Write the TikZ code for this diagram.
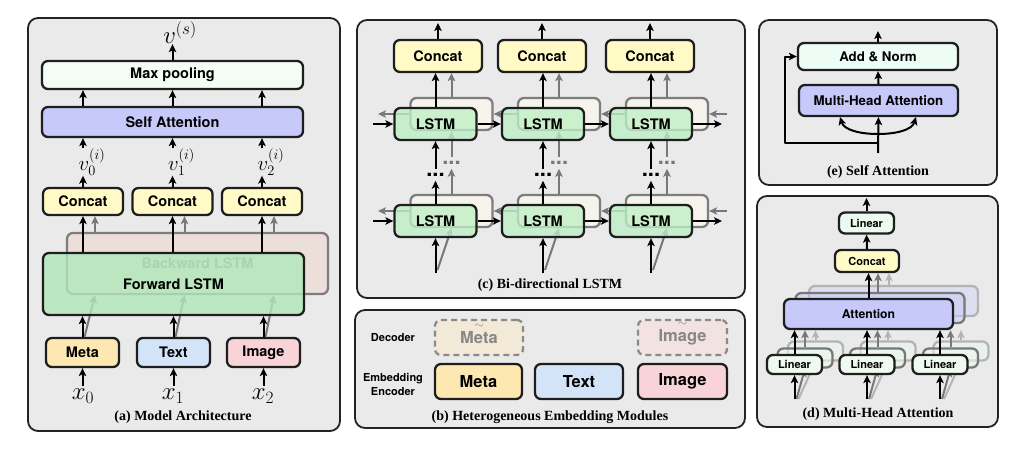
\documentclass[tikz,border=0pt]{standalone}
\usepackage{amsmath}
\usepackage{fontspec}
\newfontfamily\hsans{TeX Gyre Heros}
\newfontfamily\tms{Liberation Serif}
\usetikzlibrary{arrows.meta}
\definecolor{pbg}{RGB}{234,234,234}
\definecolor{pbd}{RGB}{35,35,35}
\definecolor{bbd}{RGB}{30,30,30}
\definecolor{cMax}{RGB}{244,252,246}
\definecolor{cAtt}{RGB}{198,201,250}
\definecolor{cCon}{RGB}{255,250,198}
\definecolor{cBack}{RGB}{236,222,217}
\definecolor{cFwd}{RGB}{176,232,186}
\definecolor{cMeta}{RGB}{253,232,178}
\definecolor{cText}{RGB}{212,228,248}
\definecolor{cImg}{RGB}{248,212,216}
\definecolor{cLst}{RGB}{190,240,196}
\definecolor{cBk}{RGB}{246,243,236}
\definecolor{cAdd}{RGB}{238,252,246}
\definecolor{cLin}{RGB}{236,250,240}
\definecolor{cDM}{RGB}{242,234,214}
\definecolor{cDI}{RGB}{242,226,226}
\definecolor{gArr}{RGB}{120,120,120}
\definecolor{lgArr}{RGB}{180,180,180}
\definecolor{gBord}{RGB}{125,125,125}
\definecolor{gTxt}{RGB}{135,135,135}
\begin{document}
\begin{tikzpicture}[x=1pt,y=-1pt,
  panel/.style={draw=pbd, line width=1.8pt, fill=pbg, rounded corners=10pt, inner sep=0pt},
  bx/.style={draw=bbd, line width=2.3pt, rounded corners=6pt, inner sep=0pt},
  bk/.style={draw=gBord, line width=2.3pt, rounded corners=6pt, inner sep=0pt, fill=cBk},
  arr/.style={-{Stealth[length=8pt,width=7.5pt,inset=2pt]}, line width=2pt, draw=black, line join=round},
  garr/.style={arr, draw=gArr},
  lgarr/.style={arr, draw=lgArr},
  f11/.style={font=\hsans\bfseries\fontsize{11}{14}\selectfont},
  f12/.style={font=\hsans\bfseries\fontsize{12.2}{14}\selectfont},
  f13/.style={font=\hsans\bfseries\fontsize{13.3}{15}\selectfont},
  f14/.style={font=\hsans\bfseries\fontsize{14.5}{16}\selectfont},
  f16/.style={font=\hsans\bfseries\fontsize{16.5}{18}\selectfont},
  mth/.style={font=\fontsize{24}{26}\selectfont, inner sep=0pt},
  mthv/.style={font=\fontsize{22}{24}\selectfont, inner sep=0pt},
  captxt/.style={font=\tms\bfseries\fontsize{14}{16}\selectfont, inner sep=0pt},
  dotn/.style={font=\hsans\bfseries\fontsize{22}{22}\selectfont, inner sep=0pt}]
\useasboundingbox (0,0) rectangle (1028,448);

% ================= Panel (a) =================
\node[panel, minimum width=312, minimum height=413] (pA) at (184,224.5) {};
\node[bx, fill=cMax, minimum width=261, minimum height=28, f14] (maxpool) at (172.5,75) {Max pooling};
\node[bx, fill=cAtt, minimum width=261, minimum height=30, f14] (selfatt) at (172.5,122) {Self Attention};
\node[mth] (vs) at (180,33) {$v^{(s)}$};
\draw[arr] (maxpool.north) -- (maxpool.north |- vs.south);

\node[bx, fill=cCon, minimum width=80, minimum height=27, f14] (c0) at (83,201.5) {Concat};
\node[bx, fill=cCon, minimum width=80, minimum height=27, f14] (c1) at (172.5,201.5) {Concat};
\node[bx, fill=cCon, minimum width=80, minimum height=27, f14] (c2) at (262,201.5) {Concat};

\foreach \c in {c0,c1,c2} \draw[arr] (selfatt.north -| \c) -- (maxpool.south -| \c);

\node[mthv] (v0) at (92,162) {$v_0^{(i)}$};
\node[mthv] (v1) at (181.5,162) {$v_1^{(i)}$};
\node[mthv] (v2) at (271,162) {$v_2^{(i)}$};
\foreach \c/\v in {c0/v0,c1/v1,c2/v2}{
  \draw[arr] (\c.north) -- (\c.north |- \v.south);
  \draw[arr] (\c.north |- \v.north) -- (\c.north |- selfatt.south);
}

\coordinate (ag0) at (95,0);
\coordinate (ag1) at (184.5,0);
\coordinate (ag2) at (274,0);

\node[bx, draw=gBord, fill=cBack, minimum width=261, minimum height=61, f14, text=gTxt] (bw) at (197.5,263.5) {Backward LSTM};
\foreach \c/\g in {c0/ag0,c1/ag1,c2/ag2} \draw[garr] (\g |- bw.north) -- (\g |- \c.south);

\node[bx, fill=cMeta, minimum width=73, minimum height=29, f14] (meta) at (82.5,352.5) {Meta};
\node[bx, fill=cText, minimum width=73, minimum height=29, f14] (text) at (173.5,352.5) {Text};
\node[bx, fill=cImg, minimum width=73, minimum height=29, f14] (image) at (263.5,352.5) {Image};

\foreach \m/\g in {meta/ag0,text/ag1,image/ag2} \draw[garr] ([xshift=2pt]\m.north) -- (\g |- bw.south);

\node[bx, fill=cFwd, fill opacity=0.8, text opacity=1, minimum width=261, minimum height=62, f14] (fw) at (173.5,284) {Forward LSTM};
\foreach \c in {c0,c1,c2} \draw[arr] (fw.north -| \c) -- (\c.south);
\foreach \m in {meta,text,image} \draw[arr] (\m.north) -- (fw.south -| \m.north);

\node[mth] (x0) at (83,396) {$x_0$};
\node[mth] (x1) at (173,396) {$x_1$};
\node[mth] (x2) at (263,396) {$x_2$};
\foreach \m/\x in {meta/x0,text/x1,image/x2} \draw[arr, shorten <=3pt] (\m.south |- \x.north) -- (\m.south);

\node[captxt] (capA) at (183,417) {(a) Model Architecture};

% ================= Panel (c) =================
\node[panel, minimum width=388, minimum height=278] (pC) at (551,159) {};
\foreach \i/\cx/\cc in {1/435.5/438,2/543/542,3/651/650}{
  \node[bk, minimum width=82, minimum height=32] (Bu\i) at ({\cx+16},114) {};
  \node[bk, minimum width=82, minimum height=32] (Bl\i) at ({\cx+16},211) {};
  \node[bx, fill=cCon, minimum width=88, minimum height=32, f14] (CC\i) at (\cc,56) {Concat};
  \node[dotn, text=gArr] (gd\i) at ({\cx+16},163) {...};
  \node[dotn] (kd\i) at (\cx,175) {...};
  \coordinate (in\i) at (\cx,273);
  \coordinate (gin\i) at ({\cx+2},270);
  \coordinate (out\i) at (\cc,23);
}
\foreach \i in {1,2,3}{
  \draw[garr] (Bu\i.north) -- (Bu\i.north |- CC\i.south);
  \draw[garr, shorten >=4pt] (Bl\i.north) -- (Bl\i.north |- gd\i.south);
  \draw[garr, shorten <=4pt] (gd\i.north) -- (Bu\i.south);
  \draw[garr] (gin\i) -- (Bl\i.south);
}
\coordinate (gLu) at (378,114);
\coordinate (gRu) at (727,114);
\coordinate (gLl) at (378,211);
\coordinate (gRl) at (727,211);
\draw[garr] (Bu1.west) -- (gLu);
\draw[garr] (Bu2.west) -- (Bu1.east);
\draw[garr] (Bu3.west) -- (Bu2.east);
\draw[garr] (gRu) -- (Bu3.east);
\draw[garr] (Bl1.west) -- (gLl);
\draw[garr] (Bl2.west) -- (Bl1.east);
\draw[garr] (Bl3.west) -- (Bl2.east);
\draw[garr] (gRl) -- (Bl3.east);

\foreach \i/\cx in {1/435.5,2/543,3/651}{
  \node[bx, fill=cLst, fill opacity=0.78, text opacity=1, minimum width=82, minimum height=32, f14] (Gu\i) at (\cx,124) {LSTM};
  \node[bx, fill=cLst, fill opacity=0.78, text opacity=1, minimum width=82, minimum height=32, f14] (Gl\i) at (\cx,221) {LSTM};
}
\foreach \i in {1,2,3}{
  \draw[arr] (Gu\i.north) -- (Gu\i.north |- CC\i.south);
  \draw[arr] (CC\i.north) -- (out\i);
  \draw[arr, shorten >=4pt] (Gl\i.north) -- (Gl\i.north |- kd\i.south);
  \draw[arr, shorten <=4pt] (kd\i.north) -- (Gu\i.south);
  \draw[arr] (in\i) -- (Gl\i.south);
}
\coordinate (kLu) at (373,124);
\coordinate (kRu) at (722,124);
\coordinate (kLl) at (373,221);
\coordinate (kRl) at (722,221);
\draw[arr] (kLu) -- (Gu1.west);
\draw[arr] (Gu1.east) -- (Gu2.west);
\draw[arr] (Gu2.east) -- (Gu3.west);
\draw[arr] (Gu3.east) -- (kRu);
\draw[arr] (kLl) -- (Gl1.west);
\draw[arr] (Gl1.east) -- (Gl2.west);
\draw[arr] (Gl2.east) -- (Gl3.west);
\draw[arr] (Gl3.east) -- (kRl);
\node[captxt] (capC) at (550,285) {(c) Bi-directional LSTM};

% ================= Panel (b) =================
\node[panel, minimum width=390, minimum height=118] (pB) at (550,369) {};
\node[f11, align=center, inner sep=0pt] (dec) at (393,338) {Decoder};
\node[f11, align=center, inner sep=0pt] (emb) at (393,384) {Embedding\\Encoder};
\node[bx, dash pattern=on 6pt off 4pt, draw=gBord!90, fill=cDM, minimum width=88, minimum height=35, f16, text=gTxt, text height=12pt, text depth=0pt] (dm) at (479,337.5) {$\overset{\sim}{\text{Meta}}$};
\node[bx, dash pattern=on 6pt off 4pt, draw=gBord!90, fill=cDI, minimum width=89, minimum height=35, f16, text=gTxt, text height=12.3pt, text depth=3.5pt] (di) at (682.5,337.5) {$\overset{\sim}{\text{Image}}$};
\node[bx, fill=cMeta, minimum width=87, minimum height=35, f16] (em) at (478.5,381.5) {Meta};
\node[bx, fill=cText, minimum width=88, minimum height=35, f16] (et) at (579,381.5) {Text};
\node[bx, fill=cImg, minimum width=89, minimum height=35, f16] (ei) at (682.5,381.5) {Image};
\node[captxt] (capB) at (550,417) {(b) Heterogeneous Embedding Modules};

% ================= Panel (e) =================
\node[panel, minimum width=238, minimum height=165] (pE) at (878,102.5) {};
\node[bx, fill=cAdd, minimum width=160, minimum height=27, f13] (an) at (878,56.5) {Add \& Norm};
\node[bx, fill=cAtt, minimum width=159, minimum height=31, f13] (mha) at (878.5,100.5) {Multi-Head Attention};
\coordinate (eout) at (878,31);
\draw[arr] (an.north) -- (eout);
\draw[arr] (mha.north) -- (an.south);
\coordinate (ein) at (878,153);
\coordinate (ej) at (878,134);
\coordinate (el) at (840,117);
\coordinate (er) at (916,117);
\coordinate (ebr) at (878,143);
\coordinate (eres) at (785,143);
\draw[arr] (ein) -- (mha.south);
\draw[arr] (ej) .. controls (860,134) and (844,130) .. (el);
\draw[arr] (ej) .. controls (896,134) and (912,130) .. (er);
\draw[arr] (ebr) -- (eres) |- (an.west);
\node[captxt] (capE) at (878,172) {(e) Self Attention};

% ================= Panel (d) =================
\node[panel, minimum width=241, minimum height=231] (pD) at (877.5,311.5) {};
\node[bx, fill=cLin, minimum width=55, minimum height=21, f11] (tl) at (866.5,223) {Linear};
\coordinate (dout) at (866.5,198);
\draw[arr] (tl.north) -- (dout);
\node[bx, fill=cCon, minimum width=64, minimum height=22, f11] (dc) at (867,261) {Concat};
\draw[arr] (dc.north) -- (tl.south);

\node[bx, draw=lgArr, fill=cAtt, fill opacity=0.35, minimum width=169, minimum height=30] (at2) at (893.5,301) {};
\node[bx, draw=gArr, fill=cAtt, fill opacity=0.5, minimum width=169, minimum height=30] (at1) at (880,308) {};
\coordinate (dx1) at (878,0);
\coordinate (dx2) at (889,0);
\draw[lgarr] (dx2 |- at2.north) -- (dx2 |- dc.south);
\draw[garr] (dx1 |- at1.north) -- (dx1 |- dc.south);

\foreach \j/\lx in {1/794.5,2/867,3/940}{
  \node[bx, draw=lgArr, fill=cLin, fill opacity=0.4, minimum width=55, minimum height=19] (Lc\j) at ({\lx+21},351) {};
  \node[bx, draw=gArr, fill=cLin, fill opacity=0.55, minimum width=55, minimum height=19] (Lb\j) at ({\lx+10.5},358) {};
  \coordinate (lin\j) at (\lx,399);
  \coordinate (lgin\j) at ({\lx+2},399);
  \coordinate (llin\j) at ({\lx+4},399);
}
\node[bx, fill=cAtt, minimum width=169, minimum height=30, f12] (at0) at (868.5,314) {Attention};
\draw[arr] (at0.north) -- (at0.north |- dc.south);

\foreach \j in {1,2,3}{
  \draw[lgarr] (llin\j) -- (Lc\j.south);
  \draw[garr] (lgin\j) -- (Lb\j.south);
  \draw[lgarr] (Lc\j.north) -- (Lc\j.north |- at0.south);
  \draw[garr] (Lb\j.north) -- (Lb\j.north |- at0.south);
}
\foreach \j/\lx in {1/794.5,2/867,3/940}{
  \node[bx, fill=cLin, minimum width=55, minimum height=19, f11] (La\j) at (\lx,364.5) {Linear};
}
\foreach \j in {1,2,3}{
  \draw[arr] (lin\j) -- (La\j.south);
  \draw[arr] (La\j.north) -- (La\j.north |- at0.south);
}
\node[captxt] (capD) at (878,414) {(d) Multi-Head Attention};
\end{tikzpicture}
\end{document}
